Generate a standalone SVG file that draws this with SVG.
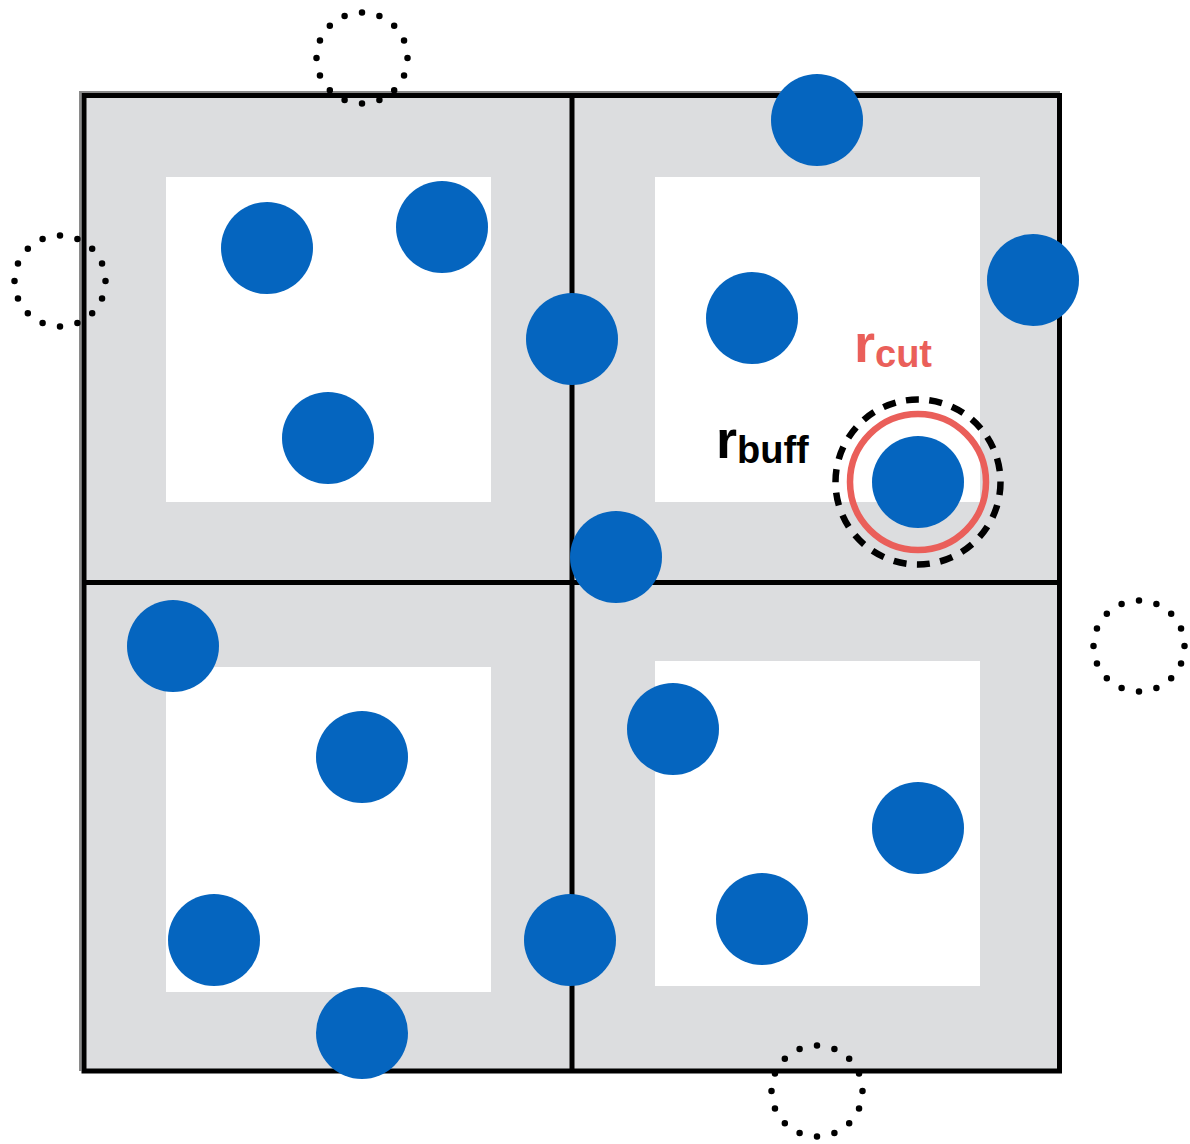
<svg xmlns="http://www.w3.org/2000/svg" width="1190" height="1144" viewBox="0 0 1190 1144">
<style>
.cell{fill:#DCDDDF}
.inner{fill:#FFFFFF}
.grid{stroke:#000;stroke-width:5;fill:none}
.p{fill:#0565BF}
.ghost{fill:none;stroke:#000;stroke-width:6.5;stroke-linecap:round;stroke-dasharray:0 1}
.lbl{font-family:"Liberation Sans",Arial,sans-serif;font-weight:bold}
</style>
<rect width="1190" height="1144" fill="#fff"/>
<g id="domain">
<rect class="cell" x="79" y="91" width="981" height="980"/>
<path d="M80 1071V92H1060" stroke="#8a8a8a" stroke-width="2" fill="none"/>
<rect class="inner" x="166" y="177" width="325" height="325"/>
<rect class="inner" x="655" y="177" width="325" height="325"/>
<rect class="inner" x="166" y="667" width="325" height="325"/>
<rect class="inner" x="655" y="661" width="325" height="325"/>
<rect class="grid" x="84" y="95.5" width="975.5" height="975.5"/>
<path class="grid" d="M572 95.5V1071M84 582.5H1059.5"/>
</g>
<g id="ghosts">
<circle class="ghost" cx="362" cy="58" r="45.5" pathLength="16"/>
<circle class="ghost" cx="60" cy="281" r="45.5" pathLength="16"/>
<circle class="ghost" cx="1139" cy="646" r="45.5" pathLength="16"/>
<circle class="ghost" cx="817" cy="1091" r="45.5" pathLength="16"/>
</g>
<g id="particles">
<circle class="p" cx="267" cy="248" r="46"/>
<circle class="p" cx="442" cy="227" r="46"/>
<circle class="p" cx="328" cy="438" r="46"/>
<circle class="p" cx="572" cy="339" r="46"/>
<circle class="p" cx="817" cy="120" r="46"/>
<circle class="p" cx="1033" cy="280" r="46"/>
<circle class="p" cx="752" cy="318" r="46"/>
<circle class="p" cx="918" cy="482" r="46"/>
<circle class="p" cx="616" cy="557" r="46"/>
<circle class="p" cx="173" cy="646" r="46"/>
<circle class="p" cx="362" cy="757" r="46"/>
<circle class="p" cx="214" cy="940" r="46"/>
<circle class="p" cx="362" cy="1033" r="46"/>
<circle class="p" cx="570" cy="940" r="46"/>
<circle class="p" cx="673" cy="729" r="46"/>
<circle class="p" cx="918" cy="828" r="46"/>
<circle class="p" cx="762" cy="919" r="46"/>
</g>
<g id="radii">
<circle cx="918" cy="482" r="68" fill="none" stroke="#EA5F5A" stroke-width="6.5"/>
<circle cx="918" cy="482" r="82.5" fill="none" stroke="#000" stroke-width="6.5" stroke-dasharray="13 10.5"/>
</g>
<g id="labels">
<text class="lbl" x="854" y="362" fill="#EA5F5A" font-size="54">r<tspan font-size="38" dy="5">cut</tspan></text>
<text class="lbl" x="716" y="458" fill="#000" font-size="54">r<tspan font-size="38" dy="5">buff</tspan></text>
</g>
</svg>
